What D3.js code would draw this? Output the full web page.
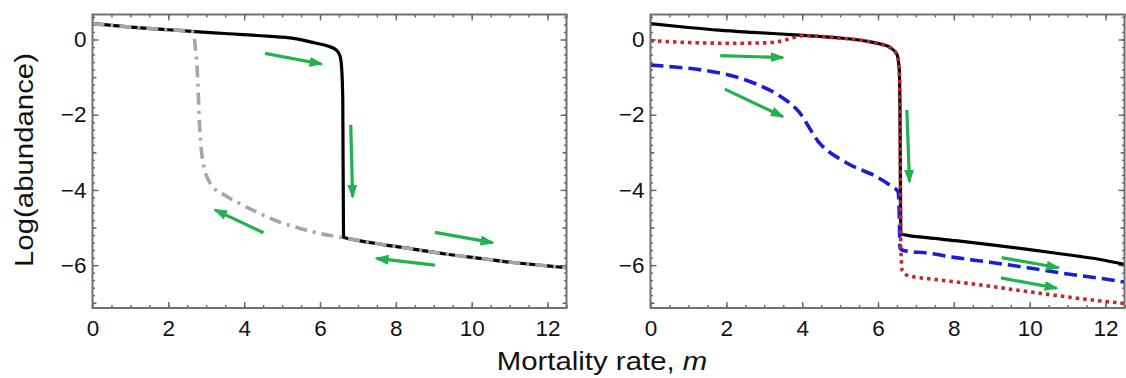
<!DOCTYPE html>
<html><head><meta charset="utf-8">
<script src="https://cdn.jsdelivr.net/npm/d3@7"></script>
<style>
body{margin:0;background:#fff}
svg{display:block}
text{font-family:"Liberation Sans",Arial,sans-serif;fill:#111}
</style>
</head><body>
<svg id="chart" width="1126" height="378"></svg>
<script>
// ---------- data ----------
const xTickLabels = [0, 2, 4, 6, 8, 10, 12];
const yTickLabels = [0, -2, -4, -6];
const xDomain = [0, 12.5];
const yDomain = [-7.14, 0.665];

// Left panel: forward branch (black) and backward branch (gray dot-dash)
const leftForwardM = [0, 1, 2, 2.7, 3.5, 4.6, 5.3, 5.9, 6.2, 6.44, 6.53, 6.57, 6.6, 6.62, 7.0, 7.58, 8.5, 9.34, 10.3, 11.09, 12.0, 12.5];
const leftForwardV = [0.42, 0.33, 0.26, 0.21, 0.16, 0.09, 0.03, -0.1, -0.17, -0.29, -0.45, -0.75, -1.6, -5.26, -5.34, -5.44, -5.58, -5.71, -5.83, -5.93, -6.02, -6.07];
const leftBackwardM = [0, 1, 2, 2.6, 2.68, 2.7, 2.75, 2.78, 2.81, 2.85, 2.92, 3.15, 3.5, 3.9, 4.4, 5.0, 5.5, 6.0, 6.6, 7.0, 7.58, 8.5, 9.34, 10.3, 11.09, 12.0, 12.5];
const leftBackwardV = [0.42, 0.33, 0.26, 0.22, 0.15, -0.1, -0.6, -1.2, -2.0, -2.7, -3.3, -3.89, -4.15, -4.37, -4.62, -4.88, -5.03, -5.16, -5.27, -5.34, -5.44, -5.58, -5.71, -5.83, -5.93, -6.02, -6.07];

// Right panel: three species
const rightBlackM = [0, 1, 1.8, 2.7, 3.55, 4.05, 4.9, 5.67, 6.1, 6.33, 6.5, 6.56, 6.58, 6.6, 7.3, 8.05, 9.0, 9.95, 10.9, 11.85, 12.5];
const rightBlackV = [0.42, 0.32, 0.25, 0.19, 0.14, 0.11, 0.05, -0.04, -0.13, -0.22, -0.4, -0.8, -2.0, -5.17, -5.27, -5.35, -5.46, -5.58, -5.71, -5.85, -5.98];
const rightRedM = [0, 1, 2, 3, 3.4, 3.7, 4.0, 4.5, 5.0, 5.67, 6.1, 6.33, 6.5, 6.56, 6.58, 6.6, 6.64, 6.8, 7.5, 8.5, 9.5, 10.5, 11.5, 12.5];
const rightRedV = [-0.03, -0.08, -0.1, -0.09, -0.05, 0.03, 0.1, 0.08, 0.04, -0.04, -0.13, -0.22, -0.4, -0.8, -2.0, -5.5, -6.15, -6.28, -6.38, -6.5, -6.64, -6.78, -6.91, -7.02];
const rightBlueM = [0, 0.5, 1.36, 2.24, 2.85, 3.38, 3.91, 4.43, 5.19, 5.96, 6.35, 6.53, 6.56, 6.58, 6.7, 7.3, 8.05, 9.0, 9.95, 10.9, 11.85, 12.5];
const rightBlueV = [-0.68, -0.72, -0.81, -0.99, -1.21, -1.48, -1.92, -2.72, -3.29, -3.65, -3.9, -4.05, -4.6, -5.55, -5.62, -5.68, -5.8, -5.93, -6.07, -6.22, -6.35, -6.45];

// Green direction arrows: [m0, v0, m1, v1]
const leftArrows = [
  [4.55, -0.37, 6.04, -0.65],
  [6.81, -2.27, 6.86, -4.18],
  [4.51, -5.14, 3.23, -4.53],
  [9.03, -5.13, 10.55, -5.4],
  [9.03, -6.0, 7.49, -5.82]
];
const rightArrows = [
  [1.84, -0.43, 3.49, -0.48],
  [1.96, -1.32, 3.49, -2.05],
  [6.76, -1.87, 6.83, -3.78],
  [9.26, -5.8, 10.76, -6.07],
  [9.24, -6.34, 10.71, -6.61]
];

// ---------- drawing ----------
const svg = d3.select("#chart");
svg.append("rect").attr("width", 1126).attr("height", 378).attr("fill", "#fff");

const defs = svg.append("defs");
defs.append("marker").attr("id", "ah")
  .attr("markerUnits", "userSpaceOnUse")
  .attr("viewBox", "0 0 14 10").attr("refX", 12).attr("refY", 5)
  .attr("markerWidth", 14).attr("markerHeight", 10).attr("orient", "auto")
  .append("path").attr("d", "M0,0 L14,5 L0,10 Z").attr("fill", "#22b14c");

const plotTop = 14.5, plotBottom = 308;
const panels = [
  {x0: 92.5, x1: 566.5},
  {x0: 650.5, x1: 1124.5}
];

function zip(ms, vs) { return ms.map((m, i) => [m, vs[i]]); }

function drawPanel(p, series, arrows) {
  const x = d3.scaleLinear().domain(xDomain).range([p.x0, p.x1]);
  const y = d3.scaleLinear().domain(yDomain).range([plotBottom, plotTop]);
  const g = svg.append("g");

  const xMinor = d3.range(0, 12.51, 0.5);
  const yMinor = d3.range(-7, 0.61, 0.2).map(v => Math.round(v * 10) / 10);
  const yMid = [-7, -5, -3, -1];

  function axisSet(axisFn, scale, pos, values, size, fmt) {
    const a = axisFn(scale).tickValues(values).tickSize(-size).tickSizeOuter(0);
    if (fmt) a.tickFormat(fmt).tickPadding(axisFn === d3.axisBottom ? 12 : 6); else a.tickFormat("");
    const gg = g.append("g").attr("transform", pos).call(a);
    gg.select(".domain").remove();
    gg.selectAll("line").attr("stroke", "#666").attr("stroke-width", 1.4);
    gg.selectAll("text").style("font-size", "22.5px").attr("fill", "#111").style("font-family", '"Liberation Sans",Arial,sans-serif');
    return gg;
  }
  const fmt = d => d3.format("")(d);
  axisSet(d3.axisBottom, x, `translate(0,${plotBottom})`, xMinor, 3, null);
  axisSet(d3.axisBottom, x, `translate(0,${plotBottom})`, xTickLabels, 6, fmt);
  axisSet(d3.axisTop, x, `translate(0,${plotTop})`, xMinor, 3, null);
  axisSet(d3.axisTop, x, `translate(0,${plotTop})`, xTickLabels, 6, null);
  axisSet(d3.axisLeft, y, `translate(${p.x0},0)`, yMinor, 2.5, null);
  axisSet(d3.axisLeft, y, `translate(${p.x0},0)`, yMid, 4, null);
  axisSet(d3.axisLeft, y, `translate(${p.x0},0)`, yTickLabels, 6, fmt);
  axisSet(d3.axisRight, y, `translate(${p.x1},0)`, yMinor, 2.5, null);
  axisSet(d3.axisRight, y, `translate(${p.x1},0)`, yMid, 4, null);
  axisSet(d3.axisRight, y, `translate(${p.x1},0)`, yTickLabels, 6, null);

  const clipId = "clip" + Math.round(p.x0);
  defs.append("clipPath").attr("id", clipId).append("rect")
    .attr("x", p.x0).attr("y", plotTop).attr("width", p.x1 - p.x0).attr("height", plotBottom - plotTop);

  const line = d3.line().x(d => x(d[0])).y(d => y(d[1])).curve(d3.curveMonotoneX);
  const lg = g.append("g").attr("clip-path", `url(#${clipId})`);
  series.forEach(s => {
    lg.append("path").datum(s.data).attr("d", line)
      .attr("fill", "none").attr("stroke", s.color).attr("stroke-width", s.width)
      .attr("stroke-dasharray", s.dash || null)
      .attr("stroke-linecap", s.cap || "butt").attr("stroke-linejoin", "round");
  });

  g.append("rect").attr("x", p.x0).attr("y", plotTop).attr("width", p.x1 - p.x0).attr("height", plotBottom - plotTop)
    .attr("fill", "none").attr("stroke", "#707070").attr("stroke-width", 2);

  arrows.forEach(a => {
    g.append("line")
      .attr("x1", x(a[0])).attr("y1", y(a[1])).attr("x2", x(a[2])).attr("y2", y(a[3]))
      .attr("stroke", "#22b14c").attr("stroke-width", 3.2).attr("marker-end", "url(#ah)");
  });
}

drawPanel(panels[0], [
  {data: zip(leftForwardM, leftForwardV), color: "#000", width: 3.2},
  {data: zip(leftBackwardM, leftBackwardV), color: "#a6a6a6", width: 3.6, dash: "12,6,3,6"}
], leftArrows);

drawPanel(panels[1], [
  {data: zip(rightBlackM, rightBlackV), color: "#000", width: 3.2},
  {data: zip(rightBlueM, rightBlueV), color: "#1c1cd6", width: 3.6, dash: "13,6"},
  {data: zip(rightRedM, rightRedV), color: "#c4262e", width: 3.6, dash: "3.5,4"}
], rightArrows);

svg.append("text")
  .attr("transform", "translate(33,160) rotate(-90) scale(1.13,1)")
  .attr("text-anchor", "middle").style("font-size", "26px")
  .text("Log(abundance)");

const t = svg.append("text")
  .attr("transform", "translate(602,370) scale(1.13,1)")
  .attr("text-anchor", "middle").style("font-size", "26px");
t.append("tspan").text("Mortality rate, ");
t.append("tspan").style("font-style", "italic").text("m");
</script>
</body></html>
